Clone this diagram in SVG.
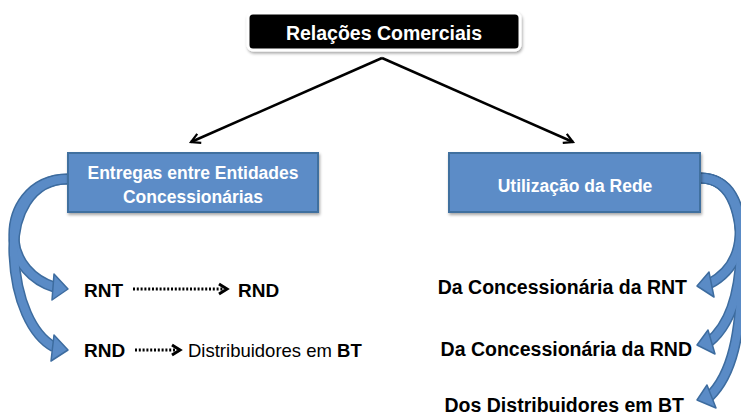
<svg xmlns="http://www.w3.org/2000/svg" width="741" height="416" viewBox="0 0 741 416">
<defs>
<style>
.t{font-family:"Liberation Sans",Arial,sans-serif;font-weight:bold;fill:#000}
.w{font-family:"Liberation Sans",Arial,sans-serif;font-weight:bold;fill:#fff}
.r{font-family:"Liberation Sans",Arial,sans-serif;font-weight:normal;fill:#000}
.box{fill:#5b8cc7;stroke:#41709f;stroke-width:2}
.conn{fill:none;stroke:#000;stroke-width:2.5}
.dot{fill:none;stroke:#000;stroke-width:3;stroke-dasharray:2 1.8}
.chev{fill:none;stroke:#000;stroke-width:3;stroke-linejoin:miter}
.bodyD{fill:none;stroke:#3d6c9f;stroke-width:11;stroke-linecap:butt}
.bodyL{fill:none;stroke:#5a8bc6;stroke-width:8;stroke-linecap:butt}
.head{fill:#5a8bc6;stroke:#3d6c9f;stroke-width:1.5;stroke-linejoin:round}
</style>
<filter id="sh" x="-10%" y="-20%" width="120%" height="150%">
<feDropShadow dx="1" dy="2" stdDeviation="1.5" flood-color="#000" flood-opacity="0.35"/>
</filter>
<marker id="ah" viewBox="0 0 12 12" refX="10" refY="6" markerWidth="12" markerHeight="12" markerUnits="userSpaceOnUse" orient="auto">
<path d="M1,1 L10,6 L1,11" fill="none" stroke="#000" stroke-width="2.2"/>
</marker>
</defs>
<rect width="741" height="416" fill="#fff"/>

<g id="connectors">
<line class="conn" x1="382" y1="58" x2="191" y2="142" marker-end="url(#ah)"/>
<line class="conn" x1="382" y1="58" x2="573" y2="142" marker-end="url(#ah)"/>
<!-- left curved arrows -->
<path class="bodyD" d="M68,179 C30,179 12,210 14,240 C16,262 32,280 54,287"/>
<path class="bodyD" d="M68,179 C30,179 12,215 14,255 C16,300 32,335 54,347"/>
<path class="bodyL" d="M68,179 C30,179 12,210 14,240 C16,262 32,280 54,287"/>
<path class="bodyL" d="M68,179 C30,179 12,215 14,255 C16,300 32,335 54,347"/>
<polygon class="head" points="54,274 68,289 52,300"/>
<polygon class="head" points="54,335 68,350 51,361"/>
<!-- right curved arrows -->
<path class="bodyD" d="M700,178 C730,178 741,205 740,235 C739,258 728,274 709,284"/>
<path class="bodyD" d="M700,178 C732,178 742,210 741,250 C740,295 730,325 709,342"/>
<path class="bodyD" d="M700,178 C734,178 743,215 742,270 C741,335 732,375 709,397"/>
<path class="bodyL" d="M700,178 C730,178 741,205 740,235 C739,258 728,274 709,284"/>
<path class="bodyL" d="M700,178 C732,178 742,210 741,250 C740,295 730,325 709,342"/>
<path class="bodyL" d="M700,178 C734,178 743,215 742,270 C741,335 732,375 709,397"/>
<polygon class="head" points="709,272 697,286 714,297"/>
<polygon class="head" points="708,330 697,345 715,354"/>
<polygon class="head" points="707,385 697,400 716,408"/>
<!-- dotted arrows -->
<line class="dot" x1="133" y1="289" x2="224" y2="289"/>
<polyline class="chev" points="219,284 227,289 219,294"/>
<line class="dot" x1="135" y1="350" x2="177" y2="350"/>
<polyline class="chev" points="172,345 180,350 172,355"/>
</g>

<g id="node-relacoes">
<rect x="248" y="13" width="272" height="37" rx="5" fill="#000" stroke="#fff" stroke-width="3" filter="url(#sh)"/>
<text class="w" x="384" y="40" font-size="19.5" text-anchor="middle">Relações Comerciais</text>
</g>

<g id="node-entregas">
<rect class="box" x="68" y="153" width="250" height="59" filter="url(#sh)"/>
<text class="w" x="193" y="179" font-size="17.5" text-anchor="middle">Entregas entre Entidades</text>
<text class="w" x="193" y="203" font-size="17.5" text-anchor="middle">Concessionárias</text>
</g>

<g id="node-utilizacao">
<rect class="box" x="449" y="153" width="251" height="59" filter="url(#sh)"/>
<text class="w" x="575" y="192" font-size="17.5" text-anchor="middle">Utilização da Rede</text>
</g>

<g id="node-rnt-rnd">
<text class="t" x="84" y="297" font-size="19">RNT</text>
<text class="t" x="238" y="297" font-size="19">RND</text>
</g>

<g id="node-rnd-bt">
<text class="t" x="84" y="357" font-size="19">RND</text>
<text x="188" y="357" font-size="18.5"><tspan class="r">Distribuidores em </tspan><tspan class="t">BT</tspan></text>
</g>

<g id="node-da-rnt">
<text class="t" x="687" y="294" font-size="19.5" text-anchor="end">Da Concessionária da RNT</text>
</g>
<g id="node-da-rnd">
<text class="t" x="692" y="356" font-size="19.5" text-anchor="end">Da Concessionária da RND</text>
</g>
<g id="node-dos-bt">
<text class="t" x="684" y="412" font-size="19.5" text-anchor="end">Dos Distribuidores em BT</text>
</g>
</svg>
